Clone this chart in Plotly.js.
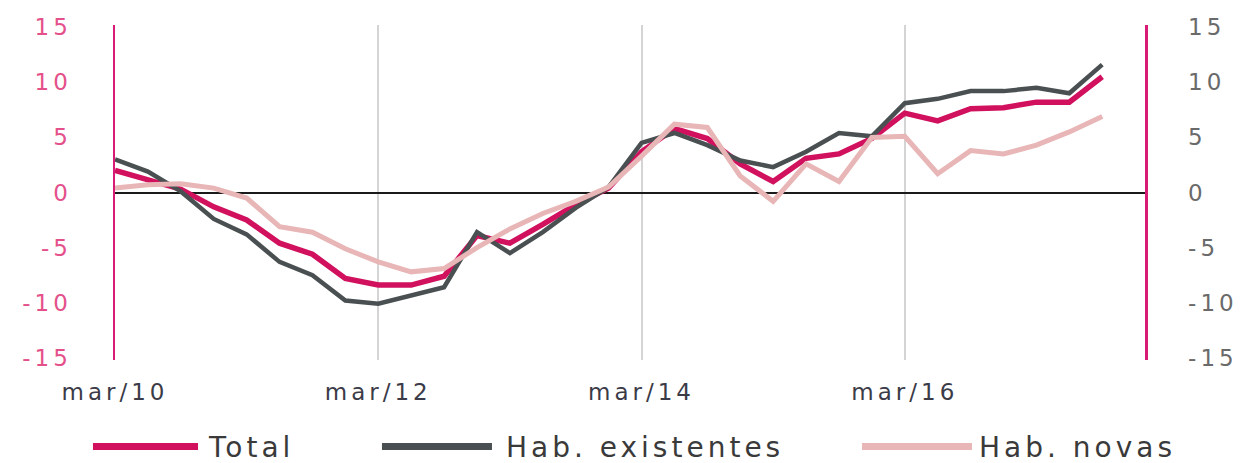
<!DOCTYPE html>
<html>
<head>
<meta charset="utf-8">
<script src="https://cdn.plot.ly/plotly-3.0.1.min.js"></script>
<style>
  html, body { margin: 0; padding: 0; background: #fff; }
  #chart { width: 1249px; height: 463px; }
  .xtick text, .ytick text, .y2tick text { letter-spacing: 4px; }
  .annotation-text { letter-spacing: 4px; }
</style>
</head>
<body>
<div id="chart"></div>
<script>
// Quarterly periods, mar/10 to set/17
const quarters = [
  'mar/10','jun/10','set/10','dez/10',
  'mar/11','jun/11','set/11','dez/11',
  'mar/12','jun/12','set/12','dez/12',
  'mar/13','jun/13','set/13','dez/13',
  'mar/14','jun/14','set/14','dez/14',
  'mar/15','jun/15','set/15','dez/15',
  'mar/16','jun/16','set/16','dez/16',
  'mar/17','jun/17','set/17'
];

// Year-on-year change (%)
const total = [
  2.0, 1.2, 0.3, -1.3,
  -2.5, -4.6, -5.6, -7.8,
  -8.4, -8.4, -7.6, -3.9,
  -4.6, -2.9, -1.1, 0.4,
  3.7, 5.8, 4.9, 2.6,
  1.0, 3.1, 3.5, 4.9,
  7.2, 6.5, 7.6, 7.7,
  8.2, 8.2, 10.5
];
const existentes = [
  3.0, 1.9, 0.1, -2.4,
  -3.8, -6.3, -7.5, -9.8,
  -10.1, -9.3, -8.6, -3.6,
  -5.5, -3.6, -1.4, 0.5,
  4.5, 5.4, 4.3, 2.9,
  2.3, 3.7, 5.4, 5.1,
  8.1, 8.5, 9.2, 9.2,
  9.5, 9.0, 11.6
];
const novas = [
  0.4, 0.7, 0.8, 0.4,
  -0.5, -3.1, -3.6, -5.1,
  -6.3, -7.2, -6.9, -5.0,
  -3.3, -1.9, -0.8, 0.5,
  3.3, 6.2, 5.9, 1.5,
  -0.8, 2.6, 1.0, 5.0,
  5.1, 1.7, 3.8, 3.5,
  4.3, 5.5, 6.9
];

const seriesNames = ['Total', 'Hab. existentes', 'Hab. novas'];
const seriesColors = ['#d1105e', '#4a5051', '#e8b6b6'];

const xTickVals = ['mar/10', 'mar/12', 'mar/14', 'mar/16'];
const yTickVals = [-15, -10, -5, 0, 5, 10, 15];
const yTickText = ['-15', '-10', '-5', '0', '5', '10', '15'];

const FONT = 'DejaVu Sans, sans-serif';
const AXIS_PINK = '#d81b74';

const traces = [
  { x: quarters, y: total, name: seriesNames[0], type: 'scatter', mode: 'lines',
    line: { color: seriesColors[0], width: 5.5 }, yaxis: 'y', hoverinfo: 'skip' },
  { x: quarters, y: existentes, name: seriesNames[1], type: 'scatter', mode: 'lines',
    line: { color: seriesColors[1], width: 4.5 }, yaxis: 'y', hoverinfo: 'skip' },
  // drawn against the right-hand axis (same scale) so it sits on top
  { x: quarters, y: novas, name: seriesNames[2], type: 'scatter', mode: 'lines',
    line: { color: seriesColors[2], width: 5 }, yaxis: 'y2', hoverinfo: 'skip' }
];

// Custom legend: long swatch lines plus labels beneath the plot
const legendY = -0.258;
const legendItems = [
  { x0: -0.0214, x1: 0.0806, tx: 0.0893 },
  { x0: 0.2592, x1: 0.3660, tx: 0.3786 },
  { x0: 0.7252, x1: 0.8320, tx: 0.8379 }
];
const shapes = legendItems.map((it, i) => ({
  type: 'line', xref: 'paper', yref: 'paper',
  x0: it.x0, x1: it.x1, y0: legendY, y1: legendY,
  line: { color: seriesColors[i], width: 7 }
}));
const annotations = legendItems.map((it, i) => ({
  xref: 'paper', yref: 'paper', x: it.tx, y: legendY - 0.004,
  xanchor: 'left', yanchor: 'middle', showarrow: false, borderpad: 0,
  text: seriesNames[i], font: { family: FONT, size: 28, color: '#3a3a3a' }
}));

const yRange = [-15.2, 15.2];

const layout = {
  width: 1249, height: 463,
  margin: { l: 115, r: 104, t: 25, b: 103 },
  paper_bgcolor: '#ffffff', plot_bgcolor: '#ffffff',
  showlegend: false,
  xaxis: {
    type: 'category', range: [0, 31.3],
    tickmode: 'array', tickvals: xTickVals, ticktext: xTickVals,
    showgrid: true, gridcolor: '#d4d4d4', gridwidth: 2,
    showline: false, zeroline: false, ticks: '',
    ticklabelstandoff: 16,
    tickfont: { family: FONT, size: 23, color: '#3b3b48' }
  },
  yaxis: {
    range: yRange, tickmode: 'array', tickvals: yTickVals, ticktext: yTickText,
    showgrid: false, zeroline: true, zerolinecolor: '#1a1a1a', zerolinewidth: 2,
    showline: true, linecolor: AXIS_PINK, linewidth: 2.5, ticks: '',
    ticklabelstandoff: 36,
    tickfont: { family: FONT, size: 23, color: '#e4508a' }
  },
  yaxis2: {
    range: yRange, overlaying: 'y', side: 'right', anchor: 'x',
    tickmode: 'array', tickvals: yTickVals, ticktext: yTickText,
    showgrid: false, zeroline: false,
    showline: true, linecolor: AXIS_PINK, linewidth: 2.5, ticks: '',
    ticklabelstandoff: 36,
    tickfont: { family: FONT, size: 23, color: '#6a6a6a' }
  },
  shapes: shapes,
  annotations: annotations
};

Plotly.newPlot('chart', traces, layout, { staticPlot: true, displayModeBar: false });
</script>
</body>
</html>
